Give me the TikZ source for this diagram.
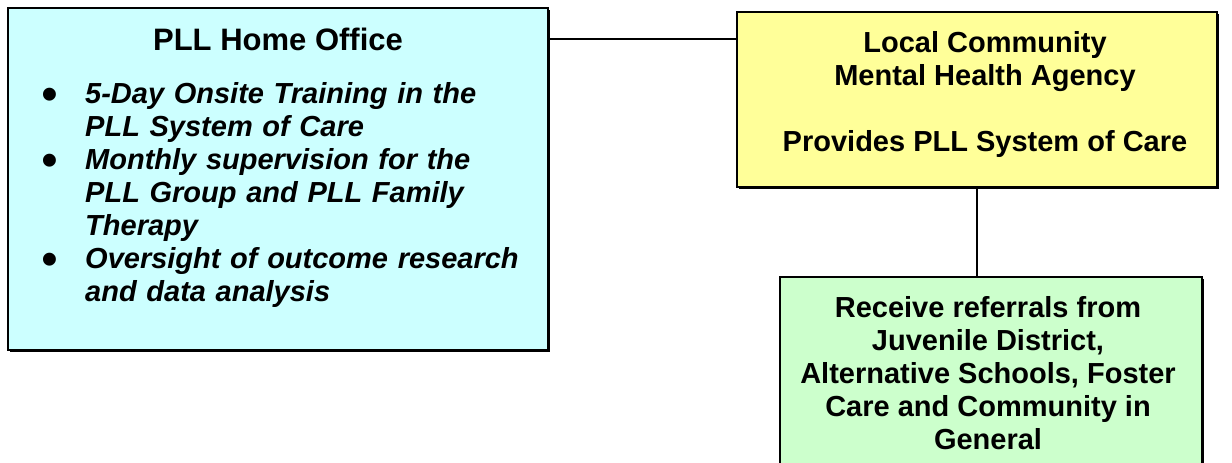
\documentclass[tikz,border=0pt]{standalone}
\usepackage{fontspec}
\setmainfont{Liberation Sans}
\usetikzlibrary{calc}
\usetikzlibrary{shadows}

\definecolor{homecyan}{HTML}{CCFFFF}
\definecolor{agencyyellow}{HTML}{FFFF99}
\definecolor{referralgreen}{HTML}{CCFFCC}

% one bulleted item of the home office list
\newcommand{\homeitem}{\par\hangindent=45pt\hangafter=1%
    \makebox[45pt][l]{\hspace{1pt}\raisebox{-6.5pt}{\fontsize{45}{33}\selectfont\textbullet}}}

\tikzset{
    box/.style={rectangle, draw, line width=2pt, inner sep=0pt,
        drop shadow={shadow xshift=2pt, shadow yshift=-2pt, fill=black, opacity=1}},
    boxtext/.style={inner sep=0pt, font=\bfseries\fontsize{29}{33}\selectfont},
    link/.style={line width=1.2pt}
}

\begin{document}
\begin{tikzpicture}[x=1pt, y=-1pt]
    \useasboundingbox (0,0) rectangle (1232,463);
    \clip (0,0) rectangle (1232,463);

    \node[box, fill=homecyan, minimum width=540pt, minimum height=342pt] (home) at (278,179) {};
    \node[box, fill=agencyyellow, minimum width=480pt, minimum height=175pt] (agency) at (977,99.5) {};
    \node[box, fill=referralgreen, minimum width=422pt, minimum height=203pt] (referral) at (991,378.5) {};

    \coordinate (tie) at ([yshift=-28pt]agency.north west);
    \draw[link] (home.east |- tie) -- (tie);
    \draw[link] (agency.south) -- (agency.south |- referral.north);

    \node[boxtext, anchor=base, font=\bfseries\fontsize{31}{33}\selectfont] (hometitle) at (278,50) {PLL Home Office};
    \node[boxtext, anchor=north west, text width=480pt] (homelist) at (40,70) {%
        \raggedright\itshape
        \homeitem 5-Day Onsite Training in the\newline PLL System of Care
        \homeitem Monthly supervision for the\newline PLL Group and PLL Family\newline Therapy
        \homeitem Oversight of outcome research\newline and data analysis\par};

    \node[boxtext, anchor=north, align=center] (agencytext) at (985,31) {Local Community\\Mental Health Agency\\[33pt]Provides PLL System of Care};
    \node[boxtext, anchor=north, align=center] (referraltext) at (988,296) {Receive referrals from\\Juvenile District,\\Alternative Schools, Foster\\Care and Community in\\General};
\end{tikzpicture}
\end{document}
